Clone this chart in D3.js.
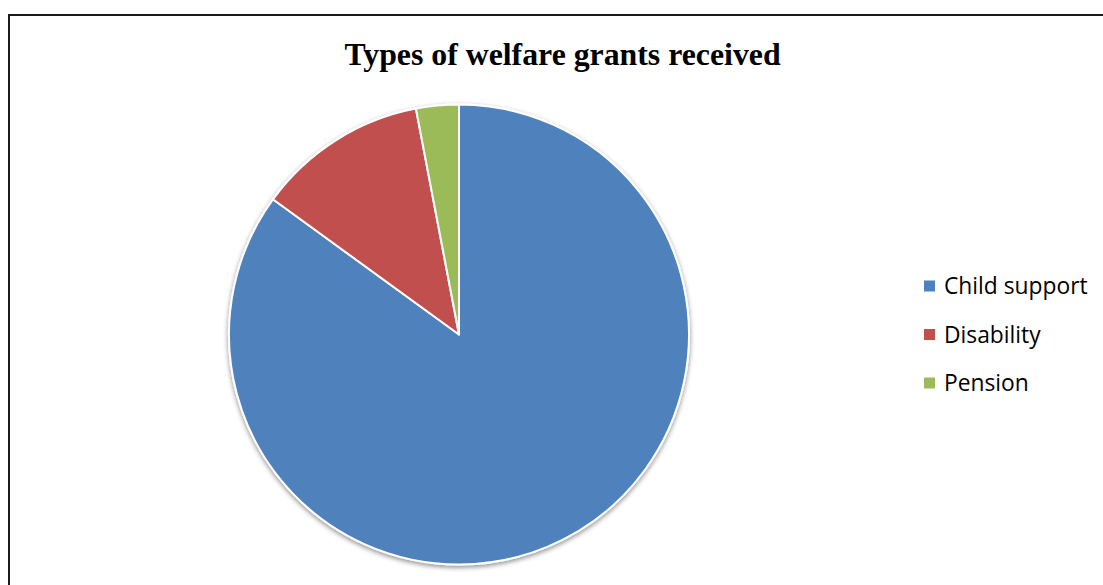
<!DOCTYPE html>
<html>
<head>
<meta charset="utf-8">
<script src="https://cdn.jsdelivr.net/npm/d3@7"></script>
<style>
  body { margin: 0; background: #fff; }
  svg { display: block; }
</style>
</head>
<body>
<div id="chart"></div>
<script>
// chart data
const categories = ["Child support", "Disability", "Pension"];
const values = [85, 12, 3];
const colors = ["#4F81BD", "#C0504D", "#9BBB59"];
const title = "Types of welfare grants received";

const width = 1103, height = 585;

const svg = d3.select("#chart").append("svg")
    .attr("width", width)
    .attr("height", height);

// drop shadow for the pie
const defs = svg.append("defs");
const shadow = defs.append("filter")
    .attr("id", "pieShadow")
    .attr("x", "-10%").attr("y", "-10%")
    .attr("width", "120%").attr("height", "120%");
shadow.append("feGaussianBlur")
    .attr("in", "SourceAlpha")
    .attr("stdDeviation", 2.5)
    .attr("result", "blur");
shadow.append("feOffset")
    .attr("in", "blur")
    .attr("dx", 0).attr("dy", 2)
    .attr("result", "off");
shadow.append("feComponentTransfer")
    .attr("in", "off")
    .attr("result", "shade")
    .append("feFuncA").attr("type", "linear").attr("slope", 0.45);
const merge = shadow.append("feMerge");
merge.append("feMergeNode").attr("in", "shade");
merge.append("feMergeNode").attr("in", "SourceGraphic");

// chart frame
svg.append("rect")
    .attr("x", 9)
    .attr("y", 15)
    .attr("width", 1107)
    .attr("height", 600)
    .attr("fill", "none")
    .attr("stroke", "#1a1a1a")
    .attr("stroke-width", 2);

// title
svg.append("text")
    .attr("x", 562.5)
    .attr("y", 65)
    .attr("text-anchor", "middle")
    .attr("font-family", "'Liberation Serif', 'Times New Roman', serif")
    .attr("font-weight", "bold")
    .attr("font-size", 31.8)
    .attr("fill", "#000")
    .text(title);

// pie
const cx = 459, cy = 334.5, radius = 230;

const pie = d3.pie().sort(null).value(d => d.value);
const arc = d3.arc().innerRadius(0).outerRadius(radius);

const data = categories.map((c, i) => ({name: c, value: values[i], color: colors[i]}));

const pieGroup = svg.append("g")
    .attr("transform", `translate(${cx}, ${cy})`)
    .attr("filter", "url(#pieShadow)");

pieGroup.selectAll("path")
    .data(pie(data))
    .enter()
    .append("path")
    .attr("d", arc)
    .attr("fill", d => d.data.color)
    .attr("stroke", "#fff")
    .attr("stroke-width", 2)
    .attr("stroke-linejoin", "round");

// legend
const legendY = d3.scalePoint()
    .domain(categories)
    .range([286, 383]);

const legend = svg.append("g")
    .selectAll("g")
    .data(data)
    .enter()
    .append("g")
    .attr("transform", d => `translate(924, ${legendY(d.name)})`);

legend.append("rect")
    .attr("x", 0)
    .attr("y", -5.5)
    .attr("width", 11)
    .attr("height", 11)
    .attr("fill", d => d.color);

legend.append("text")
    .attr("x", 20)
    .attr("y", 8)
    .attr("font-family", "'Open Sans', 'Noto Sans', sans-serif")
    .attr("font-size", 22.8)
    .attr("fill", "#000")
    .text(d => d.name);
</script>
</body>
</html>
